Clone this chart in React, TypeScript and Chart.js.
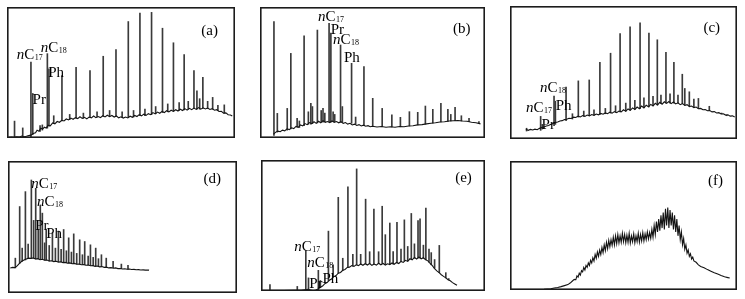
import React, { useEffect, useRef } from 'react';
import { Chart, registerables } from 'chart.js';
Chart.register(...registerables);

type Pt = [number, number];
type Peak = [number, number, number];
type Lbl = { text: string; x: number; y: number };

// ---- Panel (a) ----
const baseA: Pt[] = [[0.8,0.6],[2,0.8],[3,0.5],[4.2,1],[5.5,0.8],[6.5,1.5],[7.5,0.9],[8.5,1.3],[9.5,1.8],[10.5,2.2],[11.5,3.5],[12.5,3.9],[13.2,6],[14,5.2],[14.8,7.5],[15.6,6.8],[16.4,8.2],[17.2,7.6],[18,9.8],[19,9.2],[20,11.5],[21,10.8],[22,12.6],[23,12],[24,13.5],[25,13],[26,14.5],[27,13.8],[28,15.2],[29,14.3],[30,15.6],[31,14.8],[32,16.2],[33,15],[34,15.8],[35,14.6],[36,16],[37,15.4],[38,16.8],[39,15.5],[40,16.4],[41,15.6],[42,17],[43,16.1],[44,17.4],[45,16.3],[46,17.2],[47,16],[48,16.8],[49,15.4],[50,16.2],[51,15.2],[52,16],[53,15.3],[54,16.6],[55,15.8],[56,17.2],[57,16.4],[58,17.8],[59,16.9],[60,18.2],[61,17.3],[62,18.6],[63,17.8],[64,19.4],[65,18.4],[66,19.8],[67,18.9],[68,20.3],[69,19.4],[70,20.8],[71,19.9],[72,21.2],[73,20.3],[74,21.6],[75,20.6],[76,22],[77,21],[78,22.4],[79,21.3],[80,22.6],[81,21.6],[82,22.8],[83,21.8],[84,23.2],[85,22],[86,23],[87,22.2],[88,22.9],[89,21.8],[90,22.4],[91,21.2],[92,21.6],[93,20.2],[94,20.4],[95,19],[96,19.2],[97,17.8],[98,17.5],[98.8,16.8]];
const peaksA: Peak[] = [[3.3,0.8,12.9],[6.9,1,7.7],[10.5,0,58],[11.3,2.5,34],[14.5,5,9.5],[15.5,6,10],[17.7,7.5,64.4],[18.4,9,52.8],[20.5,11,17],[24.1,13,47.7],[27.5,14,18],[30.3,15,54],[33.5,15,19],[36.4,15.5,51.5],[39.5,16,20],[42.2,16.5,62.4],[45,16.5,21],[47.8,16.5,67.5],[50.5,15.5,20],[53.2,15.8,88.9],[55.5,16,21],[58.3,17,95.4],[60.5,17,22],[63.4,17.8,95.9],[65.2,18.5,24],[68.2,19.5,83.8],[70.5,20,26],[73,20.5,72.7],[75.5,21,27],[77.7,21.5,63.7],[79.5,22,28],[82,22.5,51.5],[83.3,22,36],[84.5,22,30],[85.9,22.5,46.4],[88,22.5,28],[90.2,22,31],[92.5,21,25],[95.3,19,25.3]];
const labelsA: Lbl[] = [{text:'nC17',x:4.3,y:60},{text:'nC18',x:14.8,y:65.7},{text:'Ph',x:18.1,y:46.4},{text:'Pr',x:11.2,y:26.3},{text:'(a)',x:85.2,y:79}];

// ---- Panel (b) ----
const baseB: Pt[] = [[6,3],[7,4.5],[8,5.2],[9,4.8],[10,6],[11,5.5],[12,7],[13,6.4],[14,7.8],[15,7.2],[16,8.8],[17,8.2],[18,10],[19,9.2],[20,11],[21,10.2],[22,11.8],[23,11],[24,12.4],[25,11.2],[26,12.8],[27,11.6],[28,13.2],[29,12],[30,12.6],[31,11.8],[32,13],[33,12],[34,12.6],[35,11.6],[36,12.4],[37,11.2],[38,11.8],[39,10.6],[40,11.2],[41,10],[42,10.6],[43,9.6],[44,10.2],[45,9.2],[46,9.8],[47,9],[48,9.4],[49,8.6],[50,9],[52,8.4],[54,8.8],[56,8.2],[58,8.6],[60,8.2],[62,8.8],[64,8.6],[66,9.2],[68,9.4],[70,10],[72,10.2],[74,10.8],[76,11.2],[78,11.6],[80,12.2],[82,12.4],[84,13],[86,13.2],[88,13.4],[90,13],[92,12.8],[94,12],[96,11.6],[98,10.8]];
const peaksB: Peak[] = [[6.2,2,88.8],[7.7,4.5,18.8],[12.1,6,22.6],[13.7,7,64.6],[16.5,8.5,15],[17.5,8,13],[19.6,9.5,77.9],[21.5,10.5,20],[22.6,10.5,26.5],[23.3,11,24],[25.5,11.5,82.4],[27.2,12,21],[28,12,22.6],[28.8,12.5,19],[30.7,12.5,87.5],[31.5,12,80],[32.5,12.5,20],[33.2,12.5,18],[35.8,12,71],[36.6,12,24],[40.7,11.2,57],[42.5,10.5,16],[46.2,9.5,54.5],[50.1,9,30.3],[54.3,8.6,22.6],[58.6,8.4,17.6],[62.4,8.6,15.8],[66.4,9.2,20.1],[70.1,10,19.6],[73.5,10.6,24.4],[76.8,11.4,21.9],[80.4,12.2,26.5],[83.5,12.6,21.9],[84.8,13,18],[86.7,13.2,23.4],[89.5,13,17],[92.9,12.5,15],[97.3,11,12.5]];
const labelsB: Lbl[] = [{text:'nC17',x:25.8,y:89.6},{text:'Pr',x:31.4,y:79.1},{text:'nC18',x:32.4,y:71.5},{text:'Ph',x:37.3,y:58.3},{text:'(b)',x:85.8,y:80}];

// ---- Panel (c) ----
const baseC: Pt[] = [[7,7.5],[8,6.5],[9,7.2],[10,6.8],[11,7.4],[12,7],[13,8],[14,8.6],[15,9],[16,9.8],[17,10.2],[18,11],[19,11.6],[20,12.4],[21,12.8],[22,13.6],[23,13.8],[24,14.6],[25,14.8],[26,15.6],[27,15.4],[28,16.4],[29,16.2],[30,17.2],[31,16.6],[32,17.6],[33,17],[34,18],[35,17.4],[36,18.4],[37,17.8],[38,18.8],[39,18.2],[40,19.2],[41,18.6],[42,19.6],[43,19],[44,20.2],[45,19.4],[46,20.6],[47,19.8],[48,21],[49,20.4],[50,22],[51,20.8],[52,22.6],[53,21.6],[54,23.4],[55,22.2],[56,24],[57,22.8],[58,24.8],[59,23.4],[60,25.4],[61,24.2],[62,26],[63,24.8],[64,26.8],[65,25.6],[66,27.6],[67,26.2],[68,28],[69,26.8],[70,28.2],[71,26.6],[72,27.8],[73,26.4],[74,27.2],[75,25.8],[76,26.6],[77,25.2],[78,25.8],[79,24.4],[80,24.8],[81,23.6],[82,24],[83,22.8],[84,23],[85,22],[86,22.2],[87,21.2],[88,21.4],[89,20.4],[90,20.6],[91,19.6],[92,19.8],[93,18.8],[94,19],[95,18],[96,18.2],[97,17.2],[98,17.4],[99,16.6]];
const peaksC: Peak[] = [[7.3,6,8.1],[13.5,6.5,17],[14.2,7.5,11],[19.4,10,32.2],[20,11,28.4],[24.7,13.8,39.1],[27.5,15,19],[30.1,16.5,43.7],[32.5,17,21],[34.9,17.5,44.4],[37,18,22],[39.6,18.5,57.6],[42,19,23],[44.3,19.5,64.5],[46.5,20,25],[48.5,20.4,79.2],[51,21,27],[52.9,21.6,84.3],[55,22.5,29],[57.3,22.8,87.3],[59,23.5,31],[61.2,24.2,79.7],[63,25,32],[64.9,25.6,74.6],[66.5,26.5,33],[68.7,27,65.2],[70.5,27,34],[72.2,27,57.6],[74,27,33],[75.9,26.5,48.7],[77,25.5,38],[79,25,35.5],[81,24,30],[83,23,30.5],[87.8,21.5,24.6],[93.2,19,19.5],[95.5,18,17.5]];
const labelsC: Lbl[] = [{text:'nC18',x:13.2,y:35.5},{text:'nC17',x:7,y:20.3},{text:'Ph',x:20.1,y:22},{text:'Pr',x:13.9,y:7.4},{text:'(c)',x:85.2,y:80.5}];

// ---- Panel (d) ----
const baseD: Pt[] = [[1,19],[2,19.4],[3,19.2],[4,20.5],[5,22.5],[6,24],[7,25],[8,25.8],[9,26.4],[10,26.2],[11,26.6],[12,25.8],[13,26],[14,25.2],[15,25.6],[16,24.8],[17,25],[18,24.2],[19,24.4],[20,23.8],[21,24],[22,23.4],[23,23.6],[24,23],[25,23.2],[26,22.6],[27,22.8],[28,22.2],[29,22.4],[30,21.8],[31,22],[32,21.4],[33,21.6],[34,21],[35,21.2],[36,20.6],[37,20.8],[38,20.2],[39,20.4],[40,19.8],[41,20],[42,19.4],[43,19.6],[44,19],[45,19.2],[46,18.8],[47,19],[48,18.5],[49,18.6],[50,18.2],[51,18.4],[52,18],[53,18.2],[54,17.8],[55,17.9],[56,17.6],[57,17.7],[58,17.4],[59,17.5],[60,17.3],[61,17.4],[61.6,17.3]];
const peaksD: Peak[] = [[3.2,19,26.4],[5.1,22.5,65.5],[6.2,24,34],[7.6,25,76.8],[8.8,26,37],[10.2,26.2,85.6],[11.2,26.5,55],[12.1,25.8,79.3],[13.2,26,48],[14.1,25.5,66.7],[15,25.5,60.5],[16,25,38],[16.7,25,48.1],[18,24.2,36],[19.4,24.4,45.6],[20.7,24,34],[22,23.8,46.9],[23.2,23.6,33],[24.3,23.2,48.1],[25.5,23,32],[26.5,22.8,41.8],[27.7,22.5,31],[28.7,22.3,44.8],[30,22,30],[31.3,21.8,40.3],[32.5,21.6,29],[33.5,21.4,39],[35,21.2,28],[36,20.8,36.5],[37.2,20.6,27],[38.3,20.4,34],[39.5,20.2,26],[40.8,20,29],[42.9,19.6,26.4],[45.9,19.1,23.9],[49.5,18.5,21.9],[52.4,18.1,20.9]];
const labelsD: Lbl[] = [{text:'nC17',x:10.2,y:79.3},{text:'nC18',x:12.7,y:66.2},{text:'Pr',x:11.9,y:47.9},{text:'Ph',x:16.7,y:41.6},{text:'(d)',x:85.4,y:83.1}];

// ---- Panel (e) ----
const baseE: Pt[] = [[1,0.3],[5,0.4],[10,0.3],[15,0.5],[18,0.6],[19.5,1],[21,1.2],[22.5,0.6],[23.5,0.2],[24.5,0.8],[25.5,1.6],[26.5,2.8],[27.5,3.8],[28.5,5.6],[29.5,6.4],[30.5,8.2],[31.5,9.2],[32.5,11],[33.5,11.8],[34.5,13.6],[35.5,14.2],[36.5,15.8],[37.5,16.4],[38.5,18],[39.5,18.2],[40.5,19.4],[41.5,18.8],[42.5,20],[43.5,19.4],[44.5,20.6],[45.5,19.6],[46.5,20.8],[47.5,19.8],[48.5,21],[49.5,19.6],[50.5,20.6],[51.5,19.8],[52.5,21.2],[53.5,20],[54.5,21],[55.5,19.8],[56.5,20.8],[57.5,20.2],[58.5,21.4],[59.5,20.4],[60.5,21.8],[61.5,21],[62.5,22.6],[63.5,21.8],[64.5,23.4],[65.5,22.6],[66.5,24.6],[67.5,23.8],[68.5,25.6],[69.5,24.4],[70.5,26],[71.5,24.6],[72.5,25.4],[73.5,23.8],[74.5,23],[75.5,21],[76.5,19.4],[77.5,17],[78.5,15.4],[79.5,14],[80.5,12.4],[81.5,11.2],[82.5,10],[83.5,8.6],[84.5,7.8],[85.5,6.4],[86.5,5.4],[87.5,4.4]];
const peaksE: Peak[] = [[4,0.3,4.9],[16.2,0.5,3.5],[20,0.5,30.7],[21.2,0.8,10],[25.6,0.8,15.8],[26.5,2.5,8],[30.1,8,45.7],[32.2,11,20],[34.5,13.6,71.5],[36.5,15.5,25],[38.8,18,79.6],[41,19,28],[42.7,20,93.2],[44.5,20.5,28],[46.7,20.8,70.1],[48.5,21,30],[50.4,20.5,62.5],[52.5,21,30],[54.1,21,64.7],[55.5,20.5,43],[57.5,20.5,51.9],[59,20.5,30],[60.7,21.5,52.4],[62.5,22.5,32],[64,23,54.3],[65.5,23,34],[67.1,24,59.2],[68.5,25,36],[70.1,25,53.8],[71,25,55],[72.5,25,35],[73.6,24,63.3],[75,22,32],[76,20,29.3],[77.5,17.5,24],[79.6,14,34.8],[82.5,10,14],[83.8,8.5,9.5]];
const labelsE: Lbl[] = [{text:'nC17',x:14.8,y:30.2},{text:'nC18',x:20.7,y:18.5},{text:'Pr',x:21.5,y:2.2},{text:'Ph',x:27.4,y:6.3},{text:'(e)',x:86.7,y:83}];

// ---- Panel (f) ----
const baseF: Pt[] = [[15,0.5],[16.5,0.8],[18,1],[19.5,1.6],[21,2],[22.5,2.6],[24,3.4],[25.5,4.2],[26.5,5.4],[27.5,7],[28.3,8.2],[29,8],[29.5,11],[30,10],[30.5,13],[31,11.5],[31.5,15],[32,14],[32.5,17.5],[33,15.5],[33.5,19],[34,17.5],[34.5,21],[35,19],[35.5,23],[36,21],[36.5,25],[37,22.5],[37.5,27.5],[38,24.5],[38.5,29.5],[39,26],[39.5,31],[40,27.5],[40.5,33],[41,29],[41.5,35],[42,30.5],[42.5,37],[43,32],[43.5,38.5],[44,33.5],[44.5,39],[45,34.5],[45.5,41],[46,35],[46.5,42],[47,36],[47.5,43],[48,36.5],[48.5,42],[49,37],[49.5,44],[50,37.5],[50.5,43],[51,36.5],[51.5,42.5],[52,37],[52.5,44],[53,36.5],[53.5,42],[54,37.5],[54.5,43.5],[55,36.5],[55.5,42],[56,37.5],[56.5,44],[57,37],[57.5,43],[58,38],[58.5,44.5],[59,38],[59.5,43.5],[60,39],[60.5,45],[61,39.5],[61.5,44.5],[62,40],[62.5,47],[63,41],[63.5,50],[64,43],[64.5,53],[65,45],[65.5,55],[66,46],[66.5,58],[67,48],[67.5,60],[68,47],[68.5,63],[69,50],[69.5,64],[70,48],[70.5,62],[71,50],[71.5,60],[72,47],[72.5,58],[73,45],[73.5,55],[74,42],[74.5,50],[75,39],[75.5,45],[76,35],[76.5,40],[77,31.5],[77.5,35],[78,28.5],[78.5,31],[79,26],[79.5,28],[80,24],[80.5,25.5],[81,22.5],[82,21.5],[83,19.5],[84,18.2],[85.5,17.2],[87,15.8],[88.5,14.6],[90,13.4],[91.5,12.4],[93,11.2],[94.5,10.2],[96,9.6],[96.8,9.3]];
const peaksF: Peak[] = [];
const labelsF: Lbl[] = [{text:'(f)',x:87.2,y:81.5}];

const LINE_INK = '#141414';
const PEAK_INK = '#3a3a3a';
const FONT = '"Liberation Serif", "Times New Roman", serif';

const framePlugin = {
  id: 'frame',
  afterDraw(chart: any) {
    const ctx = chart.ctx;
    ctx.save();
    ctx.strokeStyle = '#1c1c1c';
    ctx.lineWidth = 1.6;
    ctx.strokeRect(0.8, 0.8, chart.width - 1.6, chart.height - 1.6);
    ctx.restore();
  },
};

function makeLabelPlugin(items: Lbl[]) {
  return {
    id: 'peakLabels',
    afterDraw(chart: any) {
      const ctx = chart.ctx;
      const xs = chart.scales.x;
      const ys = chart.scales.y;
      ctx.save();
      ctx.fillStyle = '#000';
      ctx.textAlign = 'left';
      ctx.textBaseline = 'alphabetic';
      for (const it of items) {
        let px = xs.getPixelForValue(it.x);
        const py = ys.getPixelForValue(it.y);
        if (it.text.startsWith('nC')) {
          ctx.font = `italic 15px ${FONT}`;
          ctx.fillText('n', px, py);
          px += ctx.measureText('n').width;
          ctx.font = `15px ${FONT}`;
          ctx.fillText('C', px, py);
          px += ctx.measureText('C').width;
          ctx.font = `8px ${FONT}`;
          ctx.fillText(it.text.slice(2), px + 0.5, py + 1);
        } else {
          ctx.font = `15px ${FONT}`;
          ctx.fillText(it.text, px, py);
        }
      }
      ctx.restore();
    },
  };
}

type PanelProps = {
  left: number; top: number; w: number; h: number;
  base: Pt[]; peaks: Peak[]; labels: Lbl[];
};

function Panel({ left, top, w, h, base, peaks, labels }: PanelProps) {
  const ref = useRef<HTMLCanvasElement>(null);
  useEffect(() => {
    const chart = new Chart(ref.current as HTMLCanvasElement, {
      type: 'bar',
      data: {
        datasets: [
          {
            type: 'line',
            data: base.map(([x, y]) => ({ x, y })),
            borderColor: LINE_INK,
            borderWidth: 1.1,
            pointRadius: 0,
            tension: 0,
            fill: false,
          } as any,
          {
            type: 'bar',
            data: peaks.map(([x, lo, hi]) => ({ x, y: [lo, hi] })),
            backgroundColor: PEAK_INK,
            borderWidth: 0,
            barThickness: 1,
            borderSkipped: false,
          } as any,
        ],
      },
      options: {
        animation: false,
        responsive: false,
        events: [],
        layout: { padding: 0 },
        scales: {
          x: { type: 'linear', min: 0, max: 100, display: false, offset: false },
          y: { type: 'linear', min: 0, max: 100, display: false },
        },
        plugins: { legend: { display: false }, tooltip: { enabled: false } },
      } as any,
      plugins: [framePlugin, makeLabelPlugin(labels)],
    });
    return () => chart.destroy();
  }, []);
  return (
    <canvas
      ref={ref}
      width={w}
      height={h}
      style={{ position: 'absolute', left, top, width: w, height: h }}
    />
  );
}

export default function App() {
  return (
    <div style={{ position: 'absolute', left: 0, top: 0, width: 745, height: 299, background: '#fff' }}>
      <Panel left={7} top={7} w={228} h={131} base={baseA} peaks={peaksA} labels={labelsA} />
      <Panel left={260} top={7} w={225} h={131} base={baseB} peaks={peaksB} labels={labelsB} />
      <Panel left={510} top={6} w={227} h={133} base={baseC} peaks={peaksC} labels={labelsC} />
      <Panel left={8} top={161} w={229} h={132} base={baseD} peaks={peaksD} labels={labelsD} />
      <Panel left={261} top={160} w={224} h={131} base={baseE} peaks={peaksE} labels={labelsE} />
      <Panel left={510} top={161} w={227} h={129} base={baseF} peaks={peaksF} labels={labelsF} />
    </div>
  );
}
